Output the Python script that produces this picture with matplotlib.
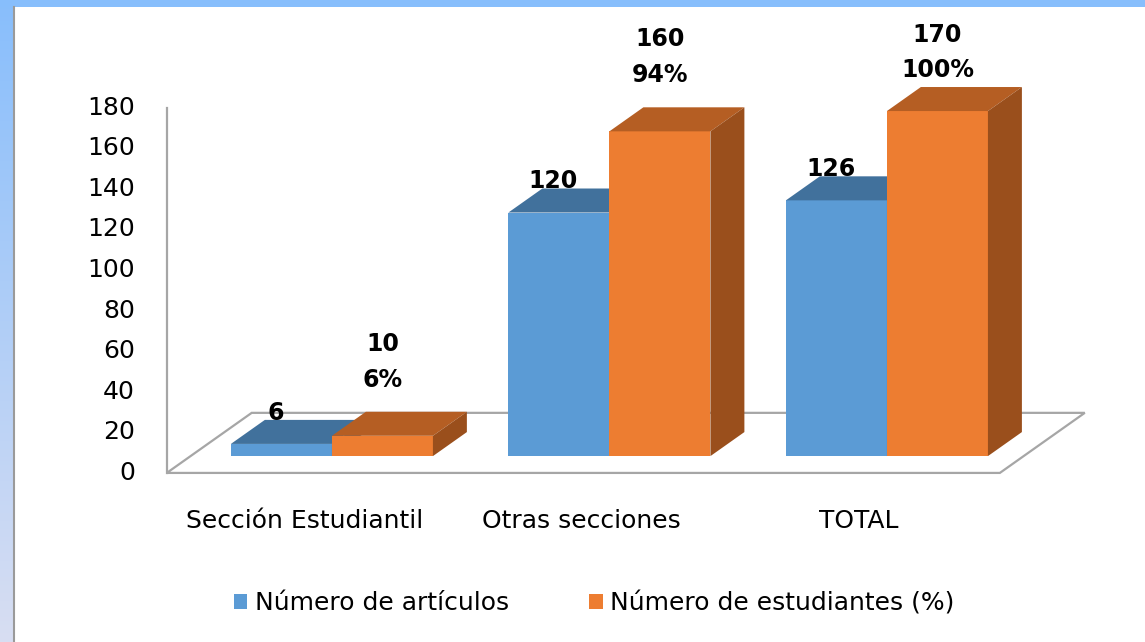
import matplotlib.pyplot as plt
import numpy as np
from matplotlib.patches import Polygon, Patch

# data
categories = ["Sección Estudiantil", "Otras secciones", "TOTAL"]
articulos = [6, 120, 126]
estudiantes = [10, 160, 170]
porcentajes = ["6%", "94%", "100%"]
yticks = list(range(0, 181, 20))
series_names = ["Número de artículos", "Número de estudiantes (%)"]

blue, blue_top = "#5B9BD5", "#41719C"
orange, orange_top, orange_side = "#ED7D31", "#B55E23", "#9A4F1C"
grid_col = "#A6A6A6"

plt.rcParams['font.family'] = ['DejaVu Sans']

fig = plt.figure(figsize=(11.45, 6.42), dpi=100)
fig.patch.set_facecolor("white")

# blue frame on the top and left edge
grad = np.linspace(0, 1, 256).reshape(-1, 1)
top_c = np.array([136, 190, 252]) / 255
bot_c = np.array([216, 222, 242]) / 255
img = top_c[None, None, :] * (1 - grad[:, :, None]) + bot_c[None, None, :] * grad[:, :, None]
axl = fig.add_axes([0, 0, 14 / 1145, 1])
axl.imshow(img, aspect='auto', extent=(0, 1, 0, 1))
axl.axis('off')
axt = fig.add_axes([0, 1 - 7 / 642, 1, 7 / 642])
axt.set_facecolor("#87BEFC")
axt.set_xticks([]); axt.set_yticks([])
for s in axt.spines.values():
    s.set_visible(False)
fig.add_artist(plt.Line2D([14 / 1145, 14 / 1145], [0, 1 - 7 / 642], color="#9A9A9A", lw=1.5))

ax = fig.add_axes([0, 0, 1, 1])
ax.set_xlim(-1.196, 2.930)
ax.set_ylim(-83.3, 233.0)
ax.axis('off')
ax.patch.set_alpha(0)

# 3d look: depth vector of the floor, bars sit in the middle
D = np.array([0.306, 29.6])
t_front, t_back = 0.28, 0.68
y0 = D[1] * t_front
bdx, bdy = D * (t_back - t_front)
x_left, x_right = -0.595, 2.407
w = 0.364
label_max = 216  # labels are kept inside the chart area

# floor
floor = Polygon([(x_left, 0), (x_right, 0), (x_right + D[0], D[1]), (x_left + D[0], D[1])],
                closed=True, facecolor="white", edgecolor=grid_col, lw=1.6, zorder=1)
ax.add_patch(floor)
ax.plot([x_left, x_left], [0, 180], color=grid_col, lw=1.6, zorder=1)

x = np.arange(len(categories))


def bar3d(xl, val, front, top, side):
    ax.bar(xl, val, width=w, bottom=y0, align='edge', color=front, zorder=3)
    yt = y0 + val
    ax.add_patch(Polygon([(xl, yt), (xl + w, yt), (xl + w + bdx, yt + bdy), (xl + bdx, yt + bdy)],
                         closed=True, facecolor=top, edgecolor='none', zorder=3))
    ax.add_patch(Polygon([(xl + w, y0), (xl + w + bdx, y0 + bdy), (xl + w + bdx, yt + bdy), (xl + w, yt)],
                         closed=True, facecolor=side, edgecolor='none', zorder=3))


for i in x:
    bar3d(i - w, articulos[i], blue, blue_top, blue_top)
    bar3d(i, estudiantes[i], orange, orange_top, orange_side)
    ax.text(i - w / 2 - 0.02, y0 + articulos[i] + bdy + 3.5, str(articulos[i]),
            ha='center', va='center', fontsize=17, fontweight='bold', zorder=5)
    ytop = y0 + estudiantes[i] + bdy
    y_hi = min(ytop + 33.5, label_max)
    ax.text(i + w / 2, y_hi - 17.7, porcentajes[i],
            ha='center', va='center', fontsize=17, fontweight='bold', zorder=5)
    ax.text(i + w / 2, y_hi, str(estudiantes[i]),
            ha='center', va='center', fontsize=17, fontweight='bold', zorder=5)
    ax.text(i - 0.1, -23.6, categories[i], ha='center', va='center', fontsize=18)

for v in yticks:
    ax.text(-0.71, v, str(v), ha='right', va='center', fontsize=18)

handles = [Patch(facecolor=blue), Patch(facecolor=orange)]
fig.legend(handles, series_names, loc='center', bbox_to_anchor=(594 / 1145, 1 - 603 / 642),
           ncol=2, frameon=False, fontsize=18, handlelength=0.55, handleheight=0.55,
           handletextpad=0.3, columnspacing=3.2)

fig.savefig("out.png", dpi=100)
